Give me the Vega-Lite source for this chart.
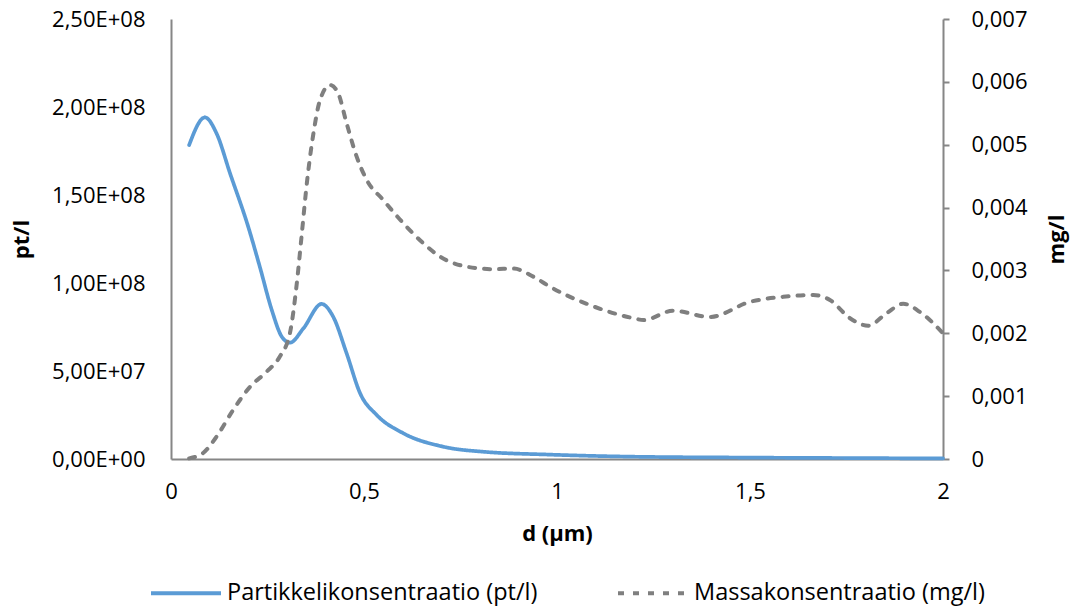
{
  "$schema": "https://vega.github.io/schema/vega-lite/v6.json",
  "width": 772,
  "height": 440,
  "autosize": {"type": "none"},
  "padding": {"left": 171, "top": 19, "right": 128, "bottom": 149},
  "background": "white",
  "config": {
    "view": {"stroke": null},
    "font": "Open Sans",
    "axis": {
      "labelFont": "Open Sans", "labelFontSize": 22, "labelColor": "#000000",
      "titleFont": "Open Sans", "titleFontSize": 22, "titleFontWeight": "bold", "titleColor": "#000000",
      "grid": false, "domainColor": "#868686", "domainWidth": 2, "tickColor": "#868686", "tickWidth": 2
    },
    "legend": {
      "orient": "none", "legendX": -22, "legendY": 537, "direction": "horizontal",
      "padding": 0, "symbolType": "stroke", "symbolSize": 4900, "symbolStrokeWidth": 3.8,
      "labelFont": "Open Sans", "labelFontSize": 23.5, "labelColor": "#000000",
      "labelOffset": 4, "columnPadding": 72, "titleLimit": 0, "labelLimit": 0
    }
  },
  "data": {
    "values": [
      {"d": 0.047, "s": "Partikkelikonsentraatio (pt/l)", "v": 178400000},
      {"d": 0.088, "s": "Partikkelikonsentraatio (pt/l)", "v": 194100000},
      {"d": 0.118, "s": "Partikkelikonsentraatio (pt/l)", "v": 185000000},
      {"d": 0.153, "s": "Partikkelikonsentraatio (pt/l)", "v": 162300000},
      {"d": 0.2, "s": "Partikkelikonsentraatio (pt/l)", "v": 132000000},
      {"d": 0.23, "s": "Partikkelikonsentraatio (pt/l)", "v": 109300000},
      {"d": 0.261, "s": "Partikkelikonsentraatio (pt/l)", "v": 84700000},
      {"d": 0.287, "s": "Partikkelikonsentraatio (pt/l)", "v": 69500000},
      {"d": 0.308, "s": "Partikkelikonsentraatio (pt/l)", "v": 66100000},
      {"d": 0.343, "s": "Partikkelikonsentraatio (pt/l)", "v": 74200000},
      {"d": 0.39, "s": "Partikkelikonsentraatio (pt/l)", "v": 88100000},
      {"d": 0.42, "s": "Partikkelikonsentraatio (pt/l)", "v": 80900000},
      {"d": 0.455, "s": "Partikkelikonsentraatio (pt/l)", "v": 60000000},
      {"d": 0.49, "s": "Partikkelikonsentraatio (pt/l)", "v": 37300000},
      {"d": 0.533, "s": "Partikkelikonsentraatio (pt/l)", "v": 25000000},
      {"d": 0.602, "s": "Partikkelikonsentraatio (pt/l)", "v": 14600000},
      {"d": 0.705, "s": "Partikkelikonsentraatio (pt/l)", "v": 7000000},
      {"d": 0.81, "s": "Partikkelikonsentraatio (pt/l)", "v": 4100000},
      {"d": 0.98, "s": "Partikkelikonsentraatio (pt/l)", "v": 2500000},
      {"d": 1.2, "s": "Partikkelikonsentraatio (pt/l)", "v": 1300000},
      {"d": 1.5, "s": "Partikkelikonsentraatio (pt/l)", "v": 800000},
      {"d": 1.8, "s": "Partikkelikonsentraatio (pt/l)", "v": 500000},
      {"d": 2.0, "s": "Partikkelikonsentraatio (pt/l)", "v": 300000},
      {"d": 0.047, "s": "Massakonsentraatio (mg/l)", "v": 0.00001},
      {"d": 0.084, "s": "Massakonsentraatio (mg/l)", "v": 0.0001},
      {"d": 0.118, "s": "Massakonsentraatio (mg/l)", "v": 0.000355},
      {"d": 0.161, "s": "Massakonsentraatio (mg/l)", "v": 0.00078},
      {"d": 0.205, "s": "Massakonsentraatio (mg/l)", "v": 0.00115},
      {"d": 0.248, "s": "Massakonsentraatio (mg/l)", "v": 0.00139},
      {"d": 0.282, "s": "Massakonsentraatio (mg/l)", "v": 0.00163},
      {"d": 0.308, "s": "Massakonsentraatio (mg/l)", "v": 0.002},
      {"d": 0.326, "s": "Massakonsentraatio (mg/l)", "v": 0.0028},
      {"d": 0.339, "s": "Massakonsentraatio (mg/l)", "v": 0.00359},
      {"d": 0.352, "s": "Massakonsentraatio (mg/l)", "v": 0.00439},
      {"d": 0.369, "s": "Massakonsentraatio (mg/l)", "v": 0.00518},
      {"d": 0.386, "s": "Massakonsentraatio (mg/l)", "v": 0.00571},
      {"d": 0.412, "s": "Massakonsentraatio (mg/l)", "v": 0.00595},
      {"d": 0.433, "s": "Massakonsentraatio (mg/l)", "v": 0.00582},
      {"d": 0.455, "s": "Massakonsentraatio (mg/l)", "v": 0.00534},
      {"d": 0.481, "s": "Massakonsentraatio (mg/l)", "v": 0.00481},
      {"d": 0.507, "s": "Massakonsentraatio (mg/l)", "v": 0.00444},
      {"d": 0.55, "s": "Massakonsentraatio (mg/l)", "v": 0.00412},
      {"d": 0.602, "s": "Massakonsentraatio (mg/l)", "v": 0.00375},
      {"d": 0.654, "s": "Massakonsentraatio (mg/l)", "v": 0.00343},
      {"d": 0.697, "s": "Massakonsentraatio (mg/l)", "v": 0.00322},
      {"d": 0.766, "s": "Massakonsentraatio (mg/l)", "v": 0.00306},
      {"d": 0.835, "s": "Massakonsentraatio (mg/l)", "v": 0.00302},
      {"d": 0.887, "s": "Massakonsentraatio (mg/l)", "v": 0.00303},
      {"d": 0.939, "s": "Massakonsentraatio (mg/l)", "v": 0.0029},
      {"d": 0.982, "s": "Massakonsentraatio (mg/l)", "v": 0.00274},
      {"d": 1.085, "s": "Massakonsentraatio (mg/l)", "v": 0.00245},
      {"d": 1.198, "s": "Massakonsentraatio (mg/l)", "v": 0.00224},
      {"d": 1.224, "s": "Massakonsentraatio (mg/l)", "v": 0.00221},
      {"d": 1.301, "s": "Massakonsentraatio (mg/l)", "v": 0.00236},
      {"d": 1.396, "s": "Massakonsentraatio (mg/l)", "v": 0.00226},
      {"d": 1.5, "s": "Massakonsentraatio (mg/l)", "v": 0.0025},
      {"d": 1.586, "s": "Massakonsentraatio (mg/l)", "v": 0.00258},
      {"d": 1.664, "s": "Massakonsentraatio (mg/l)", "v": 0.00261},
      {"d": 1.707, "s": "Massakonsentraatio (mg/l)", "v": 0.00253},
      {"d": 1.759, "s": "Massakonsentraatio (mg/l)", "v": 0.00224},
      {"d": 1.806, "s": "Massakonsentraatio (mg/l)", "v": 0.00212},
      {"d": 1.854, "s": "Massakonsentraatio (mg/l)", "v": 0.00232},
      {"d": 1.897, "s": "Massakonsentraatio (mg/l)", "v": 0.00247},
      {"d": 1.94, "s": "Massakonsentraatio (mg/l)", "v": 0.00234},
      {"d": 2.0, "s": "Massakonsentraatio (mg/l)", "v": 0.002}
    ]
  },
  "encoding": {
    "x": {
      "field": "d", "type": "quantitative", "scale": {"domain": [0, 2], "nice": false},
      "axis": {"values": [0, 0.5, 1, 1.5, 2], "labelExpr": "replace(format(datum.value,'~g'),'.',',')",
        "ticks": false, "labelPadding": 22, "title": "d (µm)", "titlePadding": 21, "labelFlush": false}
    },
    "color": {
      "field": "s", "type": "nominal",
      "scale": {"domain": ["Partikkelikonsentraatio (pt/l)", "Massakonsentraatio (mg/l)"], "range": ["#5b9bd5", "#7f7f7f"]},
      "legend": {"title": null}
    },
    "strokeDash": {
      "field": "s", "type": "nominal",
      "scale": {"domain": ["Partikkelikonsentraatio (pt/l)", "Massakonsentraatio (mg/l)"], "range": [[1, 0], [6, 9]]},
      "legend": {"title": null}
    }
  },
  "layer": [
    {
      "transform": [{"filter": "datum.s == 'Partikkelikonsentraatio (pt/l)'"}],
      "mark": {"type": "line", "interpolate": "monotone", "strokeWidth": 3.7, "strokeCap": "round"},
      "encoding": {
        "y": {
          "field": "v", "type": "quantitative", "scale": {"domain": [0, 250000000], "nice": false},
          "axis": {"orient": "left", "values": [0, 50000000, 100000000, 150000000, 200000000, 250000000],
            "labelExpr": "datum.value == 0 ? '0,00E+00' : replace(format(datum.value / pow(10, floor(log(datum.value)/LN10 + 1e-9)), '.2f'), '.', ',') + 'E+' + format(floor(log(datum.value)/LN10 + 1e-9), '02d')",
            "ticks": false, "labelPadding": 26, "title": "pt/l", "titlePadding": 18}
        }
      }
    },
    {
      "transform": [{"filter": "datum.s == 'Massakonsentraatio (mg/l)'"}],
      "mark": {"type": "line", "interpolate": "monotone", "strokeWidth": 4, "strokeCap": "round"},
      "encoding": {
        "y": {
          "field": "v", "type": "quantitative", "scale": {"domain": [0, 0.007], "nice": false},
          "axis": {"orient": "right", "values": [0, 0.001, 0.002, 0.003, 0.004, 0.005, 0.006, 0.007],
            "labelExpr": "datum.value == 0 ? '0' : replace(format(datum.value, '.3f'), '.', ',')",
            "ticks": true, "tickSize": 6, "labelPadding": 22, "title": "mg/l", "titleAngle": -90, "titleBaseline": "top", "titlePadding": 19}
        }
      }
    }
  ],
  "resolve": {"scale": {"y": "independent"}}
}
